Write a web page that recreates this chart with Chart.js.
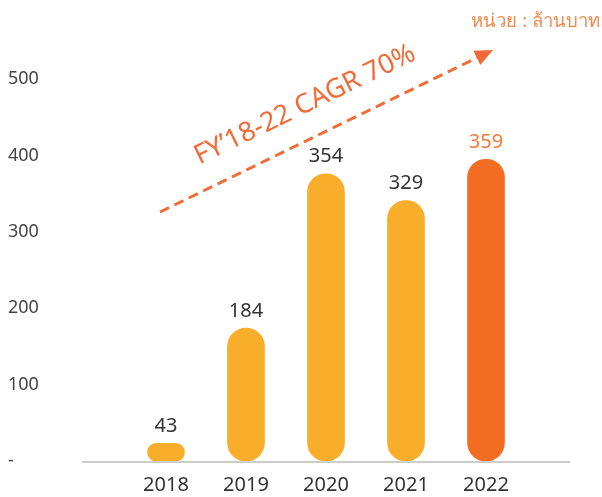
<!DOCTYPE html>
<html>
<head>
<meta charset="utf-8">
<script src="https://cdn.jsdelivr.net/npm/chart.js@4"></script>
<style>
  html, body { margin: 0; padding: 0; background: #fff; }
  #wrap { width: 602px; height: 497px; }
</style>
</head>
<body>
<div id="wrap"><canvas id="revenueChart" width="602" height="497"></canvas></div>
<script>
const years = ['2018', '2019', '2020', '2021', '2022'];
// bar heights as drawn in the picture, and the value printed above each bar
const barHeights = [23, 174, 376, 341, 395];
const valueLabels = ['43', '184', '354', '329', '359'];
const barColors = ['#F9AE2B', '#F9AE2B', '#F9AE2B', '#F9AE2B', '#F26C22'];
const labelColors = ['#333333', '#333333', '#333333', '#333333', '#F47B3A'];
const yTicks = [0, 100, 200, 300, 400, 500];
const unitText = 'หน่วย : ล้านบาท';
const cagrText = 'FY\u201918-22 CAGR 70%';

const fontFamily = "'Noto Sans', 'Open Sans', sans-serif";

const extrasPlugin = {
  id: 'extras',
  beforeDatasetsDraw(chart) {
    const ctx = chart.ctx;
    const area = chart.chartArea;
    const y0 = chart.scales.y.getPixelForValue(0) + 1;
    ctx.save();
    ctx.strokeStyle = '#BDBDBD';
    ctx.lineWidth = 1.5;
    ctx.beginPath();
    ctx.moveTo(area.left - 44, y0);
    ctx.lineTo(area.right + 44, y0);
    ctx.stroke();
    ctx.restore();
  },
  afterDatasetsDraw(chart) {
    const ctx = chart.ctx;
    const meta = chart.getDatasetMeta(0);
    ctx.save();
    ctx.font = '20px ' + fontFamily;
    ctx.textAlign = 'center';
    ctx.textBaseline = 'middle';
    meta.data.forEach((bar, i) => {
      ctx.fillStyle = labelColors[i];
      ctx.fillText(valueLabels[i], bar.x, bar.y - 17);
    });

    // unit
    ctx.font = '18.5px ' + fontFamily;
    ctx.textAlign = 'right';
    ctx.fillStyle = '#F58A4B';
    ctx.fillText(unitText, 600, 22);

    // CAGR arrow
    const x1 = 160, y1 = 212, x2 = 493, y2 = 50;
    const ang = Math.atan2(y2 - y1, x2 - x1);
    ctx.strokeStyle = '#F26B36';
    ctx.fillStyle = '#F26B36';
    ctx.lineWidth = 3;
    ctx.setLineDash([10, 6]);
    ctx.beginPath();
    ctx.moveTo(x1, y1);
    ctx.lineTo(x2 - 14 * Math.cos(ang), y2 - 14 * Math.sin(ang));
    ctx.stroke();
    ctx.setLineDash([]);
    ctx.beginPath();
    ctx.moveTo(x2, y2);
    ctx.lineTo(x2 - 18 * Math.cos(ang) + 8 * Math.sin(ang), y2 - 18 * Math.sin(ang) - 8 * Math.cos(ang));
    ctx.lineTo(x2 - 18 * Math.cos(ang) - 8 * Math.sin(ang), y2 - 18 * Math.sin(ang) + 8 * Math.cos(ang));
    ctx.closePath();
    ctx.fill();

    ctx.translate(305, 105);
    ctx.rotate(ang);
    ctx.font = '27px ' + fontFamily;
    ctx.textAlign = 'center';
    ctx.textBaseline = 'middle';
    ctx.fillText(cagrText, 0, 0);
    ctx.restore();
  }
};

const ctx = document.getElementById('revenueChart').getContext('2d');
const revenueChart = new Chart(ctx, {
  type: 'bar',
  data: {
    labels: years,
    datasets: [
      {
        data: barHeights,
        backgroundColor: barColors,
        borderRadius: 20,
        borderSkipped: false,
        barThickness: 37,
      },
    ],
  },
  options: {
    responsive: false,
    animation: false,
    layout: {
      padding: { left: 8, right: 76, top: 79, bottom: 0 },
    },
    plugins: {
      legend: { display: false },
      tooltip: { enabled: false },
    },
    scales: {
      x: {
        afterFit(scale) {
          scale.height = 36;
        },
        grid: { display: false, drawTicks: false },
        border: { display: false },
        ticks: {
          color: '#333333',
          padding: 12,
          font: { size: 20, family: fontFamily },
        },
      },
      y: {
        min: 0,
        max: 500,
        afterFit(scale) {
          scale.width = 118;
        },
        afterBuildTicks(scale) {
          scale.ticks = yTicks.map(v => ({ value: v }));
        },
        grid: { display: false, drawTicks: false },
        border: { display: false },
        ticks: {
          color: '#444444',
          crossAlign: 'far',
          font: { size: 18, family: fontFamily },
          callback: (v) => (v === 0 ? '-' : v),
        },
      },
    },
  },
  plugins: [extrasPlugin],
});
</script>
</body>
</html>
